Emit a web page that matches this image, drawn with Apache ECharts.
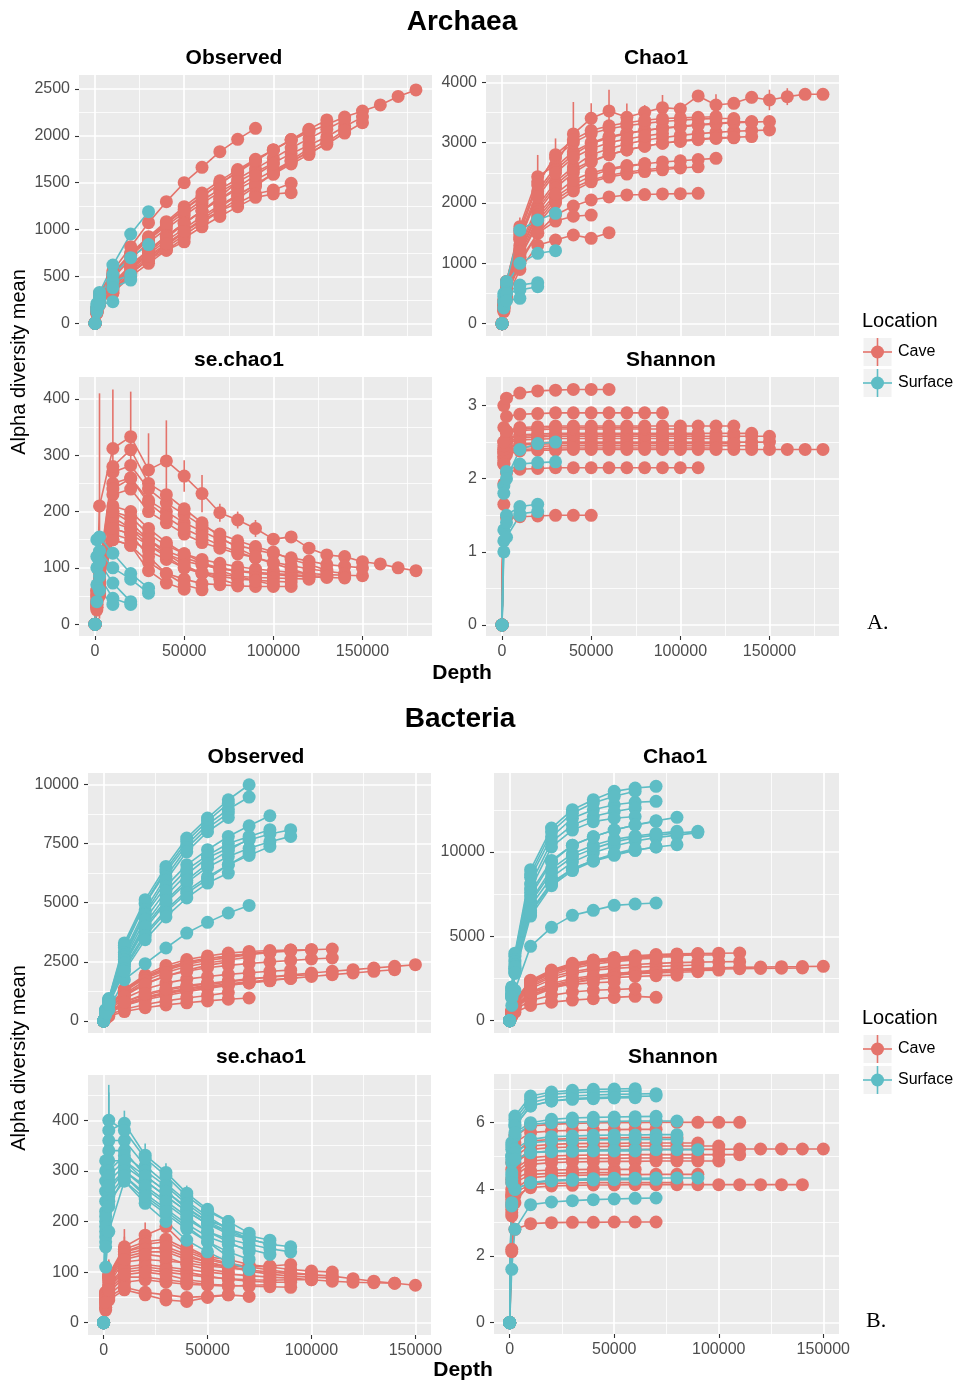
<!DOCTYPE html>
<html>
<head>
<meta charset="utf-8">
<title>Alpha diversity rarefaction – Archaea and Bacteria</title>
<script src="https://cdn.jsdelivr.net/npm/echarts@6/dist/echarts.min.js"></script>
<style>
  html, body { margin: 0; padding: 0; background: #ffffff; }
  #chart { width: 958px; height: 1383px; }
</style>
</head>
<body>
<div id="chart"></div>
<script>
// ---------------- Archaea ----------------
const archaeaDepth = [1, 1000, 2500, 10000, 20000, 30000, 40000, 50000, 60000, 70000, 80000, 90000,
  100000, 110000, 120000, 130000, 140000, 150000, 160000, 170000, 180000];
const archaeaLocation = ['Cave', 'Cave', 'Cave', 'Cave', 'Cave', 'Cave', 'Cave', 'Cave', 'Cave', 'Cave',
  'Cave', 'Cave', 'Cave', 'Cave', 'Cave', 'Cave', 'Surface', 'Surface', 'Surface', 'Surface', 'Surface'];

const archaeaObserved = [
  [1, 160, 300, 533, 750, 925, 1085, 1245, 1390, 1520, 1640, 1750, 1850, 1950, 2040, 2120, 2200, 2265, 2330, 2420, 2490],
  [1, 130, 250, 430, 620, 780, 930, 1070, 1200, 1320, 1430, 1530, 1630, 1730, 1820, 1910, 2030, 2140],
  [1, 145, 270, 480, 690, 860, 1010, 1150, 1280, 1400, 1510, 1610, 1710, 1810, 1900, 1990, 2100, 2200],
  [1, 150, 280, 500, 720, 890, 1040, 1180, 1310, 1430, 1540, 1650, 1760, 1870, 1970, 2070, 2170],
  [1, 120, 230, 400, 590, 740, 880, 1010, 1140, 1260, 1370, 1480, 1590, 1700, 1800, 1930, 2060],
  [1, 155, 290, 520, 740, 910, 1070, 1220, 1360, 1490, 1610, 1730, 1850, 1960, 2070, 2170],
  [1, 120, 225, 380, 560, 700, 840, 980, 1110, 1240, 1360, 1480, 1600, 1720, 1840, 1956],
  [1, 150, 285, 510, 730, 900, 1060, 1210, 1350, 1490, 1620, 1740, 1850, 1960, 2060],
  [1, 115, 215, 360, 540, 680, 810, 940, 1070, 1200, 1330, 1460, 1600, 1740, 1867],
  [1, 110, 205, 350, 530, 680, 830, 970, 1100, 1200, 1280, 1380, 1422, 1494],
  [1, 105, 195, 330, 500, 640, 780, 910, 1030, 1140, 1245, 1344, 1380, 1394],
  [1, 165, 320, 560, 818, 1074, 1298, 1500, 1664, 1831, 1963, 2080],
  [1, 130, 245, 420, 620, 780, 930, 1070, 1200, 1330, 1450, 1580, 1700],
  [1, 125, 235, 400, 600, 760, 910, 1060, 1200, 1350, 1510],
  [1, 110, 210, 320, 533, 680, 780, 870],
  [1, 120, 225, 380, 580, 720, 850, 980, 1100],
  [1, 210, 330, 622, 953, 1191],
  [1, 180, 290, 520, 700, 840],
  [1, 160, 260, 450, 516],
  [1, 150, 240, 380, 462],
  [1, 120, 200, 231]
];

const archaeaChao1 = [
  [1, 400, 700, 1608, 2436, 2630, 3144, 3403, 3525, 3420, 3503, 3580, 3558, 3774, 3624, 3652, 3751, 3707, 3762, 3801, 3801],
  [1, 300, 600, 1300, 1950, 2350, 2600, 2800, 2900, 2980, 3040, 3080, 3120, 3150, 3170, 3190, 3200, 3210],
  [1, 350, 650, 1450, 2200, 2600, 2850, 3000, 3100, 3160, 3200, 3240, 3260, 3290, 3310, 3330, 3340, 3350],
  [1, 330, 640, 1400, 2150, 2550, 2800, 2980, 3080, 3150, 3200, 3240, 3270, 3300, 3320, 3340, 3350],
  [1, 300, 580, 1250, 1900, 2300, 2550, 2700, 2800, 2880, 2940, 2990, 3030, 3060, 3080, 3090, 3100],
  [1, 380, 700, 1550, 2350, 2750, 3000, 3150, 3230, 3280, 3320, 3350, 3370, 3390, 3400, 3400],
  [1, 280, 560, 1200, 1850, 2250, 2500, 2680, 2800, 2880, 2940, 2990, 3020, 3050, 3070, 3080],
  [1, 360, 680, 1500, 2300, 2800, 3050, 3200, 3280, 3330, 3370, 3400, 3410, 3420, 3430],
  [1, 260, 520, 1150, 1750, 2100, 2300, 2450, 2550, 2600, 2650, 2680, 2700, 2720, 2740],
  [1, 220, 450, 1000, 1500, 1800, 1950, 2050, 2100, 2133, 2140, 2150, 2155, 2160],
  [1, 250, 500, 1100, 1650, 2000, 2200, 2350, 2430, 2480, 2520, 2550, 2580, 2600],
  [1, 320, 620, 1400, 2100, 2500, 2750, 2900, 3000, 3060, 3110, 3150],
  [1, 260, 510, 1100, 1700, 2050, 2250, 2380, 2460, 2510, 2550, 2580, 2600],
  [1, 270, 530, 1200, 1800, 2150, 2380, 2500, 2570, 2620, 2650],
  [1, 230, 460, 1050, 1500, 1700, 1780, 1800],
  [1, 200, 400, 900, 1300, 1387, 1470, 1414, 1508],
  [1, 500, 700, 1550, 1718, 1829],
  [1, 450, 650, 1000, 1166, 1210],
  [1, 380, 520, 640, 680],
  [1, 350, 500, 560, 613],
  [1, 260, 380, 420]
];
// standard deviation drawn as vertical bars: [sample index, values]
const archaeaChao1Sd = [
  [0, [0, 0, 0, 150, 360, 440, 530, 250, 350, 230, 120, 210, 100, 90, 180, 80, 100, 170, 140, 60, 40]]
];

const archaeaSeChao1 = [
  [0, 60, 210, 312, 333, 274, 290, 263, 232, 198, 185, 170, 151, 155, 135, 123, 120, 111, 107, 100, 95],
  [0, 40, 80, 200, 190, 160, 140, 125, 115, 108, 102, 98, 95, 92, 90, 88, 87, 86],
  [0, 50, 95, 250, 260, 220, 200, 180, 165, 150, 140, 132, 125, 118, 112, 106, 103, 100],
  [0, 45, 90, 230, 240, 200, 180, 160, 145, 135, 125, 118, 110, 104, 98, 94, 90],
  [0, 35, 70, 170, 160, 140, 125, 112, 105, 98, 94, 90, 88, 86, 84, 83, 82],
  [0, 55, 100, 270, 282, 240, 215, 195, 175, 160, 148, 138, 128, 115, 106, 96],
  [0, 40, 75, 180, 170, 150, 130, 118, 108, 100, 95, 92, 90, 88, 86, 85],
  [0, 50, 95, 240, 259, 215, 190, 170, 155, 140, 128, 118, 108, 98, 88],
  [0, 30, 60, 160, 150, 130, 115, 100, 92, 88, 85, 83, 82, 81, 80],
  [0, 30, 55, 150, 140, 110, 90, 80, 72, 70, 68, 67, 67, 67],
  [0, 35, 65, 190, 170, 140, 120, 100, 90, 85, 80, 78, 76, 75],
  [0, 60, 100, 280, 310, 250, 230, 205, 180, 155, 135, 120],
  [0, 40, 80, 210, 200, 170, 145, 125, 110, 95, 85, 77, 70],
  [0, 35, 70, 200, 180, 150, 125, 105, 90, 80, 70],
  [0, 25, 50, 150, 140, 95, 73, 62],
  [0, 30, 60, 170, 160, 120, 90, 70, 61],
  [0, 150, 155, 126, 90, 64],
  [0, 120, 130, 100, 80, 55],
  [0, 100, 110, 73, 40],
  [0, 70, 85, 46, 35],
  [0, 40, 60, 35]
];
const archaeaSeChao1Sd = [
  [0, [0, 0, 200, 105, 80, 65, 72, 28, 33, 16, 15, 15, 8, 6, 6, 5, 5, 4, 4, 3, 3]]
];

const archaeaShannon = [
  [0, 2.2, 2.33, 2.38, 2.39, 2.39, 2.4, 2.4, 2.4, 2.4, 2.4, 2.4, 2.4, 2.4, 2.4, 2.4, 2.4, 2.4, 2.4, 2.4, 2.4],
  [0, 2.3, 2.43, 2.48, 2.49, 2.5, 2.5, 2.5, 2.5, 2.5, 2.5, 2.5, 2.5, 2.5, 2.5, 2.5, 2.5, 2.5],
  [0, 2.35, 2.5, 2.56, 2.57, 2.58, 2.58, 2.58, 2.58, 2.58, 2.58, 2.58, 2.58, 2.58, 2.58, 2.58, 2.58, 2.58],
  [0, 2.4, 2.55, 2.6, 2.61, 2.62, 2.62, 2.62, 2.62, 2.62, 2.62, 2.62, 2.62, 2.62, 2.62, 2.62, 2.62],
  [0, 2.25, 2.38, 2.43, 2.44, 2.45, 2.45, 2.45, 2.45, 2.45, 2.45, 2.45, 2.45, 2.45, 2.45, 2.45, 2.45],
  [0, 2.5, 2.65, 2.7, 2.71, 2.72, 2.72, 2.72, 2.72, 2.72, 2.72, 2.72, 2.72, 2.72, 2.72, 2.72],
  [0, 2.3, 2.42, 2.46, 2.47, 2.48, 2.48, 2.48, 2.48, 2.48, 2.48, 2.48, 2.48, 2.48, 2.48, 2.48],
  [0, 2.35, 2.49, 2.53, 2.54, 2.55, 2.55, 2.55, 2.55, 2.55, 2.55, 2.55, 2.55, 2.55, 2.55],
  [0, 2.2, 2.36, 2.4, 2.41, 2.42, 2.42, 2.42, 2.42, 2.42, 2.42, 2.42, 2.42, 2.42, 2.42],
  [0, 1.93, 2.08, 2.13, 2.14, 2.15, 2.15, 2.15, 2.15, 2.15, 2.15, 2.15, 2.15, 2.15],
  [0, 2.4, 2.55, 2.58, 2.59, 2.6, 2.6, 2.6, 2.6, 2.6, 2.6, 2.6, 2.6, 2.6],
  [0, 2.7, 2.85, 2.88, 2.89, 2.9, 2.9, 2.9, 2.9, 2.9, 2.9, 2.9],
  [0, 2.45, 2.62, 2.66, 2.67, 2.68, 2.68, 2.68, 2.68, 2.68, 2.68, 2.68, 2.68],
  [0, 2.5, 2.65, 2.68, 2.69, 2.7, 2.7, 2.7, 2.7, 2.7, 2.7],
  [0, 1.65, 1.47, 1.48, 1.49, 1.5, 1.5, 1.5],
  [0, 3.0, 3.1, 3.17, 3.2, 3.21, 3.22, 3.22, 3.22],
  [0, 1.9, 2.1, 2.2, 2.22, 2.23],
  [0, 1.8, 2.0, 2.4, 2.48, 2.5],
  [0, 1.3, 1.5, 1.62, 1.65],
  [0, 1.15, 1.4, 1.52, 1.55],
  [0, 1.0, 1.2, 1.5]
];

// ---------------- Bacteria ----------------
const bacteriaDepth = [1, 1000, 2500, 10000, 20000, 30000, 40000, 50000, 60000, 70000, 80000, 90000,
  100000, 110000, 120000, 130000, 140000, 150000];
const bacteriaLocation = ['Cave', 'Cave', 'Cave', 'Cave', 'Cave', 'Cave', 'Cave', 'Cave', 'Cave', 'Cave',
  'Cave', 'Cave', 'Cave', 'Cave', 'Cave', 'Cave', 'Surface', 'Surface', 'Surface', 'Surface', 'Surface',
  'Surface', 'Surface', 'Surface', 'Surface', 'Surface', 'Surface', 'Surface', 'Surface', 'Surface'];

const bacteriaObserved = [
  [1, 220, 420, 750, 1000, 1200, 1370, 1520, 1650, 1760, 1860, 1950, 2030, 2100, 2170, 2240, 2310, 2380],
  [1, 200, 380, 660, 900, 1080, 1240, 1380, 1500, 1610, 1710, 1800, 1880, 1960, 2030, 2100, 2169],
  [1, 300, 600, 1300, 1900, 2250, 2500, 2650, 2750, 2830, 2900, 2960, 3010, 3042],
  [1, 260, 520, 1100, 1600, 1900, 2100, 2250, 2350, 2430, 2500, 2560, 2620, 2662],
  [1, 300, 600, 1350, 1950, 2350, 2600, 2750, 2870, 2940, 2980, 3000, 3014],
  [1, 200, 400, 800, 1100, 1300, 1450, 1580, 1690, 1780, 1860, 1920, 1958],
  [1, 300, 600, 1280, 1850, 2200, 2450, 2620, 2750, 2850, 2930, 3000],
  [1, 230, 460, 950, 1350, 1600, 1770, 1880, 1970, 2040, 2100, 2150],
  [1, 180, 360, 700, 1000, 1200, 1350, 1470, 1570, 1660, 1740, 1800],
  [1, 290, 580, 1250, 1800, 2150, 2400, 2560, 2680, 2800, 2900],
  [1, 170, 340, 650, 950, 1150, 1300, 1420, 1520, 1610, 1700],
  [1, 100, 200, 400, 560, 680, 770, 850, 920, 972],
  [1, 270, 540, 1150, 1700, 2050, 2300, 2450, 2580, 2700],
  [1, 250, 500, 1050, 1550, 1900, 2150, 2350, 2500],
  [1, 130, 260, 500, 700, 850, 970, 1080, 1200],
  [1, 200, 400, 800, 1150, 1350, 1500, 1600],
  [1, 480, 950, 3300, 5127, 6535, 7733, 8578, 9352, 9986],
  [1, 450, 900, 3100, 4950, 6300, 7450, 8300, 8950, 9465],
  [1, 460, 920, 3200, 5000, 6400, 7600, 8450, 9200],
  [1, 430, 870, 2900, 4700, 6100, 7310, 8155, 8789],
  [1, 420, 850, 2800, 4550, 5950, 7150, 8000, 8600],
  [1, 400, 820, 2700, 4500, 5700, 6600, 7240, 7800, 8250, 8676],
  [1, 380, 780, 2500, 4100, 5300, 6200, 6900, 7300, 7650, 7900, 8085],
  [1, 370, 760, 2400, 3900, 5000, 5850, 6500, 6950, 7300, 7580, 7803],
  [1, 390, 800, 2600, 4300, 5500, 6400, 7000, 7500, 7800, 8085],
  [1, 360, 740, 2300, 3700, 4700, 5500, 6100, 6600, 7000, 7380],
  [1, 380, 770, 2450, 4000, 5100, 5950, 6650, 7200, 7700],
  [1, 350, 720, 2200, 3600, 4600, 5400, 6000, 6600, 7099],
  [1, 250, 480, 1747, 2423, 3085, 3718, 4169, 4564, 4887],
  [1, 340, 700, 2100, 3437, 4400, 5200, 5831, 6254]
];

const bacteriaChao1 = [
  [1, 400, 800, 1500, 2000, 2350, 2600, 2800, 2900, 3000, 3050, 3100, 3130, 3160, 3180, 3200, 3210, 3221],
  [1, 380, 750, 1400, 1900, 2250, 2500, 2700, 2820, 2920, 2980, 3030, 3060, 3080, 3100, 3110, 3122],
  [1, 600, 1200, 2400, 3000, 3400, 3600, 3750, 3850, 3920, 3960, 3980, 4000, 4011],
  [1, 500, 1000, 2000, 2600, 2900, 3100, 3250, 3330, 3400, 3440, 3470, 3490, 3500],
  [1, 550, 1100, 2300, 2900, 3300, 3500, 3650, 3750, 3820, 3860, 3890, 3900],
  [1, 420, 850, 1700, 2200, 2500, 2680, 2800, 2870, 2920, 2960, 2980, 3000],
  [1, 580, 1150, 2350, 2950, 3350, 3580, 3720, 3800, 3870, 3920, 3950],
  [1, 480, 950, 1900, 2450, 2800, 3000, 3100, 3170, 3220, 3260, 3300],
  [1, 400, 800, 1600, 2100, 2400, 2580, 2700, 2780, 2830, 2870, 2900],
  [1, 560, 1100, 2250, 2850, 3250, 3480, 3620, 3700, 3760, 3800],
  [1, 380, 760, 1500, 1950, 2250, 2430, 2550, 2620, 2670, 2700],
  [1, 250, 500, 900, 1100, 1220, 1300, 1380, 1442, 1383],
  [1, 550, 1100, 2200, 2800, 3200, 3450, 3580, 3650, 3700],
  [1, 520, 1050, 2100, 2700, 3100, 3350, 3500, 3600],
  [1, 320, 650, 1200, 1500, 1700, 1800, 1850, 1900],
  [1, 420, 850, 1700, 2000, 2150, 2250, 2300],
  [1, 2000, 4000, 8951, 11421, 12508, 13101, 13595, 13793, 13891],
  [1, 1900, 3800, 8500, 10900, 12000, 12500, 12800, 12950, 13002],
  [1, 1950, 3900, 8700, 11200, 12300, 12900, 13300, 13600],
  [1, 1800, 3600, 8100, 10600, 11600, 12100, 12400, 12600],
  [1, 1700, 3500, 7800, 10300, 11300, 11800, 12000, 12100],
  [1, 1600, 3300, 7600, 9500, 10400, 10900, 11300, 11600, 11850, 12054],
  [1, 1500, 3100, 7000, 8800, 9700, 10200, 10600, 10850, 11000, 11120, 11224],
  [1, 1450, 3000, 6800, 8500, 9400, 9950, 10350, 10650, 10850, 11000, 11150],
  [1, 1500, 3100, 7100, 9000, 9900, 10400, 10750, 10950, 11100, 11224],
  [1, 1400, 2900, 6500, 8200, 9000, 9500, 9850, 10100, 10300, 10433],
  [1, 1550, 3200, 7400, 9400, 10400, 10900, 11300, 11600, 11816],
  [1, 1350, 2800, 6200, 8000, 8900, 9450, 9800, 10100, 10300],
  [1, 900, 1800, 4406, 5533, 6244, 6540, 6837, 6916, 6975],
  [1, 1400, 2850, 6400, 8100, 9000, 9500, 9900, 10200]
];

const bacteriaSeChao1 = [
  [0, 50, 80, 120, 125, 122, 118, 112, 108, 104, 100, 97, 95, 92, 87, 82, 78, 74],
  [0, 45, 75, 110, 115, 110, 105, 100, 96, 93, 90, 88, 85, 82, 80, 79, 78],
  [0, 60, 95, 150, 173, 190, 150, 130, 125, 115, 110, 105, 102, 100],
  [0, 55, 90, 140, 150, 145, 130, 120, 110, 102, 96, 92, 90, 88],
  [0, 60, 95, 145, 160, 165, 145, 128, 118, 110, 104, 99, 95],
  [0, 40, 70, 100, 105, 100, 95, 90, 87, 85, 84, 85, 85],
  [0, 58, 92, 140, 155, 160, 140, 125, 115, 110, 112, 115],
  [0, 45, 72, 105, 110, 105, 100, 92, 86, 82, 80, 80],
  [0, 35, 60, 90, 90, 85, 80, 76, 74, 72, 71, 70],
  [0, 55, 88, 130, 140, 140, 125, 115, 110, 112, 110],
  [0, 30, 55, 80, 85, 80, 76, 74, 72, 74, 75],
  [0, 25, 45, 65, 55, 45, 42, 50, 55, 52],
  [0, 55, 90, 135, 145, 150, 135, 120, 110, 105],
  [0, 50, 85, 125, 135, 130, 115, 105, 100],
  [0, 30, 50, 70, 60, 55, 50, 52, 55],
  [0, 40, 65, 95, 100, 95, 85, 80],
  [0, 300, 380, 394, 331, 297, 256, 224, 200, 177],
  [0, 280, 360, 360, 310, 275, 240, 210, 185, 165],
  [0, 320, 400, 380, 325, 290, 250, 220, 200],
  [0, 260, 340, 340, 290, 260, 225, 200, 190],
  [0, 240, 320, 320, 280, 250, 220, 195, 180],
  [0, 220, 300, 330, 300, 270, 235, 205, 185, 172, 163],
  [0, 200, 280, 310, 280, 250, 220, 195, 175, 165, 155, 150],
  [0, 180, 260, 300, 265, 235, 205, 180, 165, 155, 146, 140],
  [0, 210, 290, 320, 290, 260, 228, 200, 180, 165, 155],
  [0, 170, 250, 290, 255, 225, 195, 170, 155, 145, 135],
  [0, 190, 270, 300, 270, 240, 210, 180, 160, 140],
  [0, 160, 240, 280, 245, 215, 185, 160, 140, 125],
  [0, 110, 180, 280, 236, 200, 163, 140, 120, 105],
  [0, 150, 230, 290, 250, 220, 190, 160, 130]
];
const bacteriaSeChao1Sd = [
  [2, [0, 20, 30, 35, 25, 15, 10, 8, 6, 5, 5, 4, 4, 3]],
  [6, [0, 25, 30, 30, 20, 12, 8, 6, 5, 4, 4, 3]],
  [16, [0, 60, 75, 25, 23, 18, 15, 12, 10, 8]],
  [18, [0, 50, 70, 20, 15, 12, 10, 8, 6]]
];

const bacteriaShannon = [
  [0, 3.8, 4.8, 5.1, 5.15, 5.17, 5.18, 5.19, 5.19, 5.2, 5.2, 5.2, 5.2, 5.21, 5.21, 5.21, 5.21, 5.21],
  [0, 3.2, 3.8, 4.05, 4.1, 4.12, 4.13, 4.13, 4.14, 4.14, 4.14, 4.14, 4.14, 4.14, 4.14, 4.14, 4.14],
  [0, 4.8, 5.6, 5.9, 5.95, 5.98, 5.99, 6.0, 6.0, 6.01, 6.01, 6.01, 6.01, 6.01],
  [0, 3.9, 4.6, 4.95, 5.0, 5.02, 5.03, 5.03, 5.04, 5.04, 5.04, 5.04, 5.04, 5.04],
  [0, 4.0, 4.8, 5.2, 5.25, 5.27, 5.28, 5.29, 5.3, 5.3, 5.3, 5.3, 5.3],
  [0, 3.7, 4.4, 4.75, 4.8, 4.82, 4.83, 4.84, 4.84, 4.85, 4.85, 4.85, 4.85],
  [0, 4.2, 5.0, 5.3, 5.35, 5.37, 5.38, 5.38, 5.39, 5.39, 5.39, 5.39],
  [0, 3.8, 4.5, 4.85, 4.9, 4.92, 4.93, 4.93, 4.94, 4.94, 4.94, 4.94],
  [0, 3.4, 4.0, 4.35, 4.4, 4.42, 4.43, 4.44, 4.44, 4.45, 4.45, 4.45],
  [0, 4.3, 5.1, 5.45, 5.5, 5.52, 5.53, 5.54, 5.55, 5.55, 5.55],
  [0, 3.3, 3.9, 4.15, 4.18, 4.19, 4.2, 4.2, 4.2, 4.2, 4.2],
  [0, 2.13, 2.8, 2.97, 3.0, 3.01, 3.01, 3.02, 3.02, 3.02],
  [0, 4.6, 5.4, 5.7, 5.75, 5.77, 5.78, 5.79, 5.8, 5.8],
  [0, 3.6, 4.3, 4.55, 4.58, 4.59, 4.6, 4.6, 4.6],
  [0, 2.2, 3.6, 4.2, 4.25, 4.28, 4.29, 4.3, 4.3],
  [0, 3.5, 4.2, 4.45, 4.48, 4.49, 4.5, 4.5],
  [0, 5.2, 6.0, 6.6, 6.75, 6.8, 6.83, 6.85, 6.86, 6.87],
  [0, 5.0, 5.9, 6.5, 6.65, 6.72, 6.75, 6.77, 6.79, 6.8],
  [0, 5.4, 6.2, 6.8, 6.92, 6.97, 7.0, 7.01, 7.02],
  [0, 5.3, 6.1, 6.7, 6.85, 6.9, 6.92, 6.94, 6.95],
  [0, 5.0, 5.9, 6.5, 6.65, 6.7, 6.72, 6.74, 6.75],
  [0, 4.5, 5.2, 5.5, 5.58, 5.6, 5.62, 5.63, 5.63, 5.64, 5.64],
  [0, 4.3, 4.9, 5.1, 5.15, 5.17, 5.18, 5.18, 5.19, 5.19, 5.19, 5.19],
  [0, 3.5, 4.0, 4.2, 4.27, 4.3, 4.32, 4.33, 4.33, 4.34, 4.34, 4.34],
  [0, 4.8, 5.6, 5.95, 6.0, 6.02, 6.03, 6.04, 6.05, 6.05, 6.05],
  [0, 4.4, 5.1, 5.4, 5.45, 5.47, 5.48, 5.49, 5.5, 5.5, 5.5],
  [0, 4.9, 5.7, 6.0, 6.1, 6.14, 6.16, 6.17, 6.18, 6.19],
  [0, 3.6, 4.0, 4.2, 4.25, 4.27, 4.28, 4.29, 4.3, 4.3],
  [0, 1.6, 2.8, 3.54, 3.62, 3.66, 3.69, 3.71, 3.73, 3.74],
  [0, 4.2, 4.9, 5.1, 5.13, 5.14, 5.15, 5.15, 5.15]
];

// ---------------- tick labels ----------------
const archaeaDepthTicks = [0, 50000, 100000, 150000];
const bacteriaDepthTicks = [0, 50000, 100000, 150000];
const archaeaObservedTicks = [0, 500, 1000, 1500, 2000, 2500];
const archaeaChao1Ticks = [0, 1000, 2000, 3000, 4000];
const archaeaSeChao1Ticks = [0, 100, 200, 300, 400];
const archaeaShannonTicks = [0, 1, 2, 3];
const bacteriaObservedTicks = [0, 2500, 5000, 7500, 10000];
const bacteriaChao1Ticks = [0, 5000, 10000];
const bacteriaSeChao1Ticks = [0, 100, 200, 300, 400];
const bacteriaShannonTicks = [0, 2, 4, 6];

// ---------------- drawing ----------------
const FONT = "'Liberation Sans', Arial, Helvetica, sans-serif";
const COLORS = { Cave: '#E4736B', Surface: '#5EBDC5' };

// minor grid lines sit half way between the labelled breaks
function minorBreaks(major, range) {
  const step = major[1] - major[0];
  const out = [];
  for (let v = major[0] - step / 2; v <= range[1]; v += step) {
    if (v >= range[0]) out.push(v);
  }
  return out;
}

const panels = [
  { box: [79, 75, 353, 261], x: [-9000, 189000], xTicks: archaeaDepthTicks, showX: false,
    y: [-135, 2649], yTicks: archaeaObservedTicks, depth: archaeaDepth, values: archaeaObserved, loc: archaeaLocation },
  { box: [486, 75, 353, 261], x: [-9000, 189000], xTicks: archaeaDepthTicks, showX: false,
    y: [-204, 4121], yTicks: archaeaChao1Ticks, depth: archaeaDepth, values: archaeaChao1, loc: archaeaLocation, sd: archaeaChao1Sd },
  { box: [79, 377, 353, 259], x: [-9000, 189000], xTicks: archaeaDepthTicks, showX: true,
    y: [-21, 439], yTicks: archaeaSeChao1Ticks, depth: archaeaDepth, values: archaeaSeChao1, loc: archaeaLocation, sd: archaeaSeChao1Sd },
  { box: [486, 377, 353, 259], x: [-9000, 189000], xTicks: archaeaDepthTicks, showX: true,
    y: [-0.15, 3.39], yTicks: archaeaShannonTicks, depth: archaeaDepth, values: archaeaShannon, loc: archaeaLocation },
  { box: [88, 773, 343, 260], x: [-7500, 157500], xTicks: bacteriaDepthTicks, showX: false,
    y: [-507, 10482], yTicks: bacteriaObservedTicks, depth: bacteriaDepth, values: bacteriaObserved, loc: bacteriaLocation },
  { box: [494, 773, 345, 260], x: [-7500, 157500], xTicks: bacteriaDepthTicks, showX: false,
    y: [-730, 14683], yTicks: bacteriaChao1Ticks, depth: bacteriaDepth, values: bacteriaChao1, loc: bacteriaLocation },
  { box: [88, 1075, 343, 260], x: [-7500, 157500], xTicks: bacteriaDepthTicks, showX: true,
    y: [-24.3, 489.5], yTicks: bacteriaSeChao1Ticks, depth: bacteriaDepth, values: bacteriaSeChao1, loc: bacteriaLocation, sd: bacteriaSeChao1Sd },
  { box: [494, 1074, 345, 260], x: [-7500, 157500], xTicks: bacteriaDepthTicks, showX: true,
    y: [-0.34, 7.46], yTicks: bacteriaShannonTicks, depth: bacteriaDepth, values: bacteriaShannon, loc: bacteriaLocation }
];

function majorAxis(gridIndex, range, ticks, show, position, margin) {
  return {
    type: 'value', gridIndex, position, min: range[0], max: range[1],
    axisLine: { show: false, onZero: false },
    axisTick: { show, length: 4, lineStyle: { color: '#333333', width: 1.1 }, customValues: ticks },
    axisLabel: { show, customValues: ticks, formatter: v => String(v), color: '#4D4D4D',
      fontSize: 16, fontFamily: FONT, margin, hideOverlap: false },
    splitLine: { show: true, lineStyle: { color: '#FFFFFF', width: 1.7 } },
    splitArea: { show: false }
  };
}
function minorAxis(gridIndex, range, ticks, position) {
  return {
    type: 'value', gridIndex, position, min: range[0], max: range[1],
    axisLine: { show: false, onZero: false },
    axisTick: { show: false, customValues: ticks },
    axisLabel: { show: false, customValues: ticks },
    splitLine: { show: true, lineStyle: { color: '#FFFFFF', width: 0.8 } },
    splitArea: { show: false }
  };
}

const grid = [], xAxis = [], yAxis = [], series = [];

panels.forEach((p, i) => {
  grid.push({ left: p.box[0], top: p.box[1], width: p.box[2], height: p.box[3],
    show: true, backgroundColor: '#EBEBEB', borderWidth: 0, containLabel: false });
  xAxis.push(majorAxis(i, p.x, p.xTicks, p.showX, 'bottom', 8));
  xAxis.push(minorAxis(i, p.x, minorBreaks(p.xTicks, p.x), 'top'));
  yAxis.push(majorAxis(i, p.y, p.yTicks, true, 'left', 9));
  yAxis.push(minorAxis(i, p.y, minorBreaks(p.yTicks, p.y), 'right'));
  const ax = 2 * i;

  p.values.forEach((vals, s) => {
    const color = COLORS[p.loc[s]];
    const data = vals.map((v, j) => [p.depth[j], v]);
    series.push({ type: 'line', xAxisIndex: ax, yAxisIndex: ax, data, symbol: 'none', showSymbol: false,
      lineStyle: { color, width: 1.6 }, z: 2, silent: true });
    series.push({ type: 'scatter', xAxisIndex: ax, yAxisIndex: ax, data, symbol: 'circle', symbolSize: 13,
      itemStyle: { color, opacity: 1 }, z: 4, silent: true });
  });

  (p.sd || []).forEach(([s, sd]) => {
    const color = COLORS[p.loc[s]];
    const data = sd.map((e, j) => [p.depth[j], p.values[s][j] - e, p.values[s][j] + e])
      .filter(d => d[2] > d[1]);
    series.push({
      type: 'custom', xAxisIndex: ax, yAxisIndex: ax, z: 3, silent: true,
      dimensions: ['depth', 'low', 'high'], encode: { x: 0, y: [1, 2] },
      data,
      renderItem: (params, api) => {
        const a = api.coord([api.value(0), api.value(1)]);
        const b = api.coord([api.value(0), api.value(2)]);
        return { type: 'line', shape: { x1: a[0], y1: a[1], x2: b[0], y2: b[1] },
          style: { stroke: color, lineWidth: 1.6 } };
      }
    });
  });
});

// text, facet strips and legend
function text(str, x, y, font, align, rotation) {
  return { type: 'text', x, y, rotation: rotation || 0, z: 100, silent: true,
    style: { text: str, font, fill: '#000000', textAlign: align, textVerticalAlign: 'middle',
      align, verticalAlign: 'middle' } };
}
const bold = size => `bold ${size}px ${FONT}`;
const plain = size => `${size}px ${FONT}`;

const graphics = [
  text('Archaea', 462, 22, bold(28), 'center'),
  text('Observed', 234, 58, bold(21), 'center'),
  text('Chao1', 656, 58, bold(21), 'center'),
  text('se.chao1', 239, 360, bold(21), 'center'),
  text('Shannon', 671, 360, bold(21), 'center'),
  text('Depth', 462, 673, bold(21), 'center'),
  text('Alpha diversity mean', 19, 362, plain(20), 'center', Math.PI / 2),
  text('A.', 867, 623, "22px 'Liberation Serif', 'Times New Roman', serif", 'left'),

  text('Bacteria', 460, 719, bold(28), 'center'),
  text('Observed', 256, 757, bold(21), 'center'),
  text('Chao1', 675, 757, bold(21), 'center'),
  text('se.chao1', 261, 1057, bold(21), 'center'),
  text('Shannon', 673, 1057, bold(21), 'center'),
  text('Depth', 463, 1370, bold(21), 'center'),
  text('Alpha diversity mean', 19, 1058, plain(20), 'center', Math.PI / 2),
  text('B.', 866, 1321, "22px 'Liberation Serif', 'Times New Roman', serif", 'left')
];

function legend(top) {
  const items = [];
  items.push(text('Location', 862, top, plain(20), 'left'));
  [['Cave', top + 31], ['Surface', top + 62]].forEach(([name, cy]) => {
    const color = COLORS[name];
    items.push({ type: 'rect', z: 100, silent: true, shape: { x: 863, y: cy - 14.5, width: 29, height: 29 },
      style: { fill: '#F2F2F2', stroke: '#FFFFFF', lineWidth: 1 } });
    items.push({ type: 'line', z: 101, silent: true, shape: { x1: 863, y1: cy, x2: 892, y2: cy },
      style: { stroke: color, lineWidth: 1.6 } });
    items.push({ type: 'line', z: 101, silent: true, shape: { x1: 877.5, y1: cy - 14, x2: 877.5, y2: cy + 14 },
      style: { stroke: color, lineWidth: 1.6 } });
    items.push({ type: 'circle', z: 102, silent: true, shape: { cx: 877.5, cy, r: 6.5 }, style: { fill: color } });
    items.push(text(name, 898, cy, plain(16), 'left'));
  });
  return items;
}
graphics.push(...legend(321), ...legend(1018));

const chart = echarts.init(document.getElementById('chart'), null, { renderer: 'canvas' });
chart.setOption({
  animation: false,
  backgroundColor: '#FFFFFF',
  grid, xAxis, yAxis, series,
  graphic: { elements: graphics }
});
</script>
</body>
</html>
